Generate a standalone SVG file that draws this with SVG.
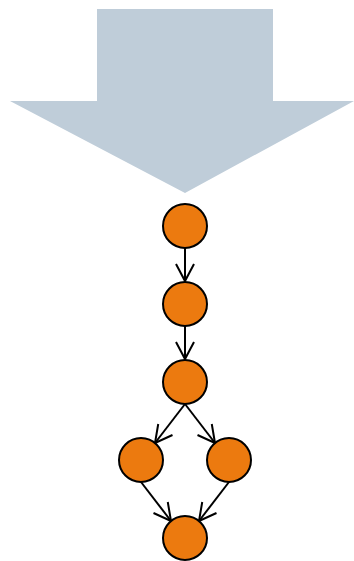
<svg xmlns="http://www.w3.org/2000/svg" width="354" height="561" viewBox="0 0 354 561">
<style>
.node{fill:#ec7a0f;stroke:#000;stroke-width:2}
.edge{fill:none;stroke:#000;stroke-width:2}
</style>
<defs>
<marker id="ah" markerUnits="userSpaceOnUse" viewBox="-20 -12 24 24" refX="0" refY="0" markerWidth="24" markerHeight="24" orient="auto">
<path d="M-17,-9 L0,0 L-17,9" fill="none" stroke="#000" stroke-width="2"/>
</marker>
</defs>
<polygon id="big-arrow" points="97,9 273,9 273,101 354,101 185,193 10,101 97,101" fill="#bfcdd9"/>
<g id="connectors">
<line class="edge" x1="185" y1="248" x2="185" y2="281" marker-end="url(#ah)"/>
<line class="edge" x1="185" y1="326" x2="185" y2="359" marker-end="url(#ah)"/>
<line class="edge" x1="185" y1="404" x2="155" y2="443" marker-end="url(#ah)"/>
<line class="edge" x1="185" y1="404" x2="215" y2="443" marker-end="url(#ah)"/>
<line class="edge" x1="141" y1="482" x2="171" y2="521" marker-end="url(#ah)"/>
<line class="edge" x1="229" y1="482" x2="199" y2="521" marker-end="url(#ah)"/>
</g>
<g id="n1"><circle class="node" cx="185" cy="226" r="22"/></g>
<g id="n2"><circle class="node" cx="185" cy="304" r="22"/></g>
<g id="n3"><circle class="node" cx="185" cy="382" r="22"/></g>
<g id="n4"><circle class="node" cx="141" cy="460" r="22"/></g>
<g id="n5"><circle class="node" cx="229" cy="460" r="22"/></g>
<g id="n6"><circle class="node" cx="185" cy="538" r="22"/></g>
</svg>
